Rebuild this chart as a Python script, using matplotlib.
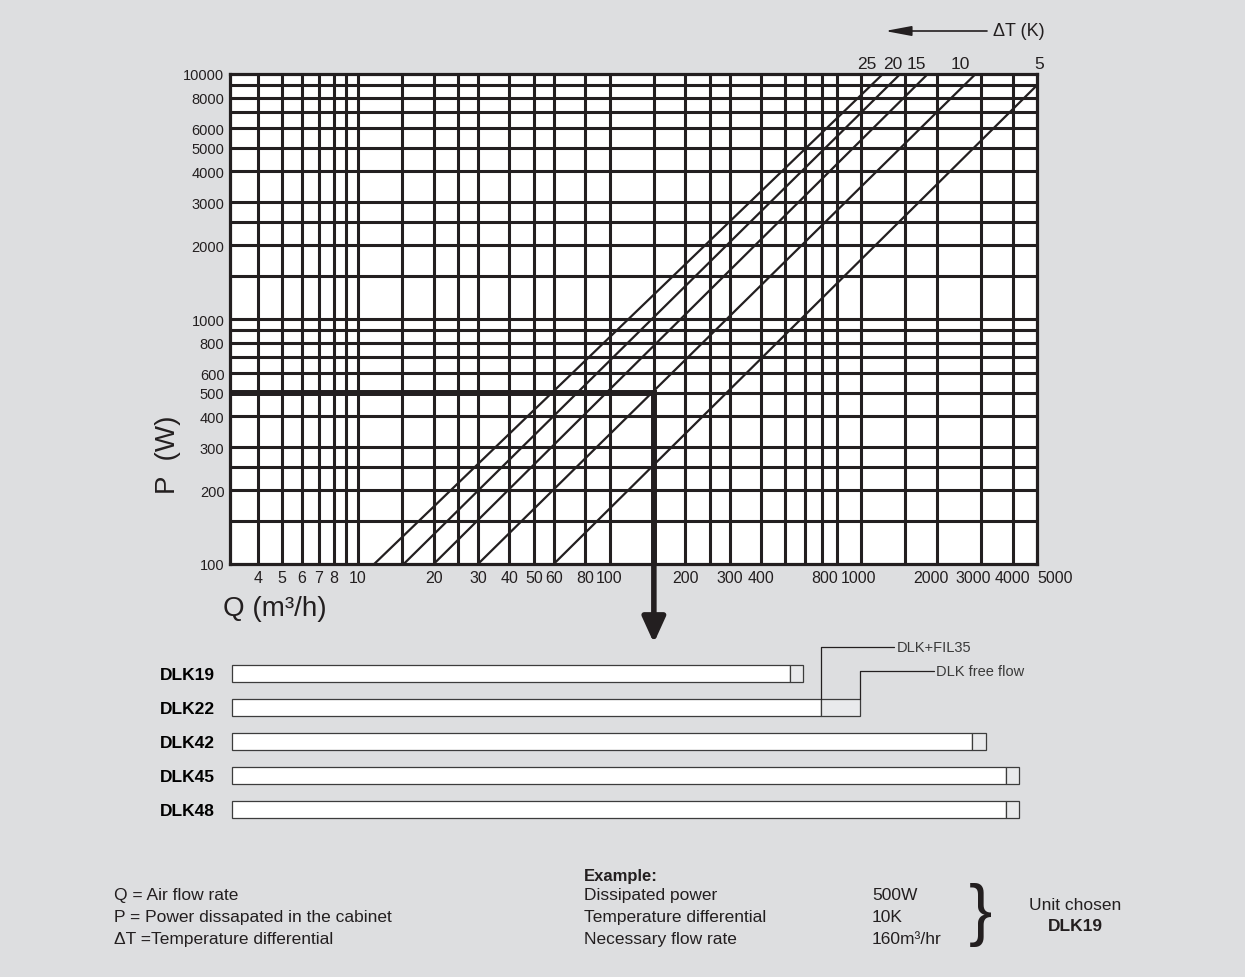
import matplotlib.pyplot as plt

W, H = 1245, 978
INK = '#231f20'
BG = '#dddee0'
PALE = '#e9eaec'

plt.rcParams['font.family'] = ['Liberation Sans', 'DejaVu Sans']
plt.rcParams['text.color'] = INK

# grid lines of the log-log chart
q_grid = [4, 5, 6, 7, 8, 9, 10, 15, 20, 25, 30, 40, 50, 60, 80, 100, 150, 200, 250,
          300, 400, 500, 600, 700, 800, 1000, 1500, 2000, 3000, 4000]
q_labels = [4, 5, 6, 7, 8, 10, 20, 30, 40, 50, 60, 80, 100, 200, 300, 400,
            800, 1000, 2000, 3000, 4000, 5000]
p_grid = [150, 200, 250, 300, 400, 500, 600, 700, 800, 900, 1000, 1500, 2000,
          2500, 3000, 4000, 5000, 6000, 7000, 8000, 9000]
p_labels = [100, 200, 300, 400, 500, 600, 800, 1000, 2000, 3000, 4000, 5000,
            6000, 8000, 10000]

# delta T lines (read at both ends)
dt_values = [25, 20, 15, 10, 5]
dt_q_start = [11.6, 15.2, 20, 30, 60]
dt_p_start = [100, 100, 100, 100, 100]
dt_q_end = [1220, 1430, 1840, 2850, 5000]
dt_p_end = [10000, 10000, 10000, 10000, 9000]

# worked example
example_p = 500
example_q = 150

# unit flow ranges
units = ['DLK19', 'DLK22', 'DLK42', 'DLK45', 'DLK48']
flow_filter = [520, 690, 2760, 3780, 3780]
flow_free = [590, 990, 3140, 4250, 4250]

Q_MIN, Q_MAX = 3.1, 5000

# small nudges (pixels) so the crowded labels do not collide, like the original
xlabel_shift = {800: -12, 1000: -3, 2000: -6, 3000: -8, 4000: 0, 5000: 18}
dt_label_shift = [-16, -7, -11, -15, 2]


def px(x, y):
    return x / W, 1 - y / H


fig = plt.figure(figsize=(W / 100, H / 100), dpi=100, facecolor=BG)

ax = fig.add_axes([230 / W, 1 - 565 / H, 807 / W, 490 / H])
ax.set_xscale('log')
ax.set_yscale('log')
ax.set_xlim(Q_MIN, Q_MAX)
ax.set_ylim(100, 10000)
ax.set_facecolor('white')

for q in q_grid:
    ax.axvline(q, color=INK, lw=2.2, zorder=1)
for p in p_grid:
    ax.axhline(p, color=INK, lw=2.2, zorder=1)
for s in ax.spines.values():
    s.set_linewidth(2.3)
    s.set_color(INK)

ax.set_xticks([])
ax.set_yticks(p_labels)
ax.set_yticklabels([str(v) for v in p_labels])
ax.minorticks_off()
ax.tick_params(axis='both', length=0, colors=INK)
ax.tick_params(axis='y', labelsize=10.5, pad=4)

for v in q_labels:
    ax.annotate(str(v), xy=(v, 0), xycoords=('data', 'axes fraction'),
                xytext=(xlabel_shift.get(v, 0), -6), textcoords='offset pixels',
                ha='center', va='top', fontsize=11.5, annotation_clip=False)

for i, (dt, q0, p0, q1, p1) in enumerate(zip(dt_values, dt_q_start, dt_p_start,
                                              dt_q_end, dt_p_end)):
    ax.plot([q0, q1], [p0, p1], color=INK, lw=1.6, zorder=2)
    ax.annotate(str(dt), xy=(min(q1, Q_MAX), 10000),
                xytext=(dt_label_shift[i], 3), textcoords='offset pixels',
                ha='center', va='bottom', fontsize=12.5, annotation_clip=False)

# example path P=500 -> Q
ax.plot([Q_MIN, example_q, example_q], [example_p, example_p, 100],
        color=INK, lw=4.3, solid_joinstyle='miter', solid_capstyle='butt',
        zorder=4, clip_on=False)
ax.annotate('', xy=(example_q, H - 644), xycoords=('data', 'figure pixels'),
            xytext=(example_q, 100), textcoords='data',
            arrowprops=dict(arrowstyle='-|>,head_length=1.1,head_width=0.5',
                            mutation_scale=14, lw=4.0, color=INK,
                            shrinkA=0, shrinkB=0),
            annotation_clip=False)

fig.text(*px(168, 455), 'P  (W)', rotation=90, fontsize=20, ha='center', va='center')
fig.text(*px(223, 609), 'Q (m³/h)', fontsize=20, ha='left', va='center')

# delta T header arrow
ax.annotate('', xy=(885, H - 32), xycoords='figure pixels',
            xytext=(987, H - 32), textcoords='figure pixels',
            arrowprops=dict(arrowstyle='-|>,head_length=1.6,head_width=0.3',
                            mutation_scale=10, lw=1.2, color=INK,
                            shrinkA=0, shrinkB=0),
            annotation_clip=False)
fig.text(*px(993, 32), 'ΔT (K)', fontsize=13, ha='left', va='center')

# unit bars
bax = fig.add_axes([230 / W, 1 - 827 / H, 807 / W, 170 / H])
bax.set_xscale('log')
bax.set_xlim(Q_MIN, Q_MAX)
bax.set_ylim(4.5, -0.5)
bax.patch.set_alpha(0)
rows = list(range(len(units)))
x0 = 3.15
bax.barh(rows, [f - x0 for f in flow_filter], left=x0, height=0.5,
         color='white', edgecolor='#3c3c3c', lw=0.9)
bax.barh(rows, [b - a for a, b in zip(flow_filter, flow_free)], left=flow_filter,
         height=0.5, color=PALE, edgecolor='#3c3c3c', lw=0.9)
bax.set_yticks(rows)
bax.set_yticklabels(units, fontweight='bold', fontsize=12.5)
bax.set_xticks([])
bax.minorticks_off()
bax.tick_params(axis='y', length=0, pad=11)
for s in bax.spines.values():
    s.set_visible(False)

callout = dict(arrowstyle='-', connectionstyle='angle,angleA=0,angleB=90,rad=0',
               relpos=(0, 0.5), color=INK, lw=0.9, shrinkA=0, shrinkB=0)
bax.annotate('DLK+FIL35', xy=(flow_filter[1], 0.75), xytext=(55, 37),
             textcoords='offset points', ha='left', va='center', fontsize=10.5,
             color='#3a3a3a', arrowprops=callout, annotation_clip=False)
bax.annotate('DLK free flow', xy=(flow_free[1], 0.75), xytext=(55, 19.5),
             textcoords='offset points', ha='left', va='center', fontsize=10.5,
             color='#3a3a3a', arrowprops=callout, annotation_clip=False)

# notes
notes = ['Q = Air flow rate', 'P = Power dissapated in the cabinet',
         'ΔT =Temperature differential']
for i, t in enumerate(notes):
    fig.text(*px(114, 896 + 22 * i), t, fontsize=12.5, ha='left', va='center')

narrow = ['Liberation Sans Narrow', 'Liberation Sans', 'DejaVu Sans']
fig.text(*px(584, 876), 'Example:', fontsize=12, fontweight='bold',
         family=narrow, ha='left', va='center')
ex_names = ['Dissipated power', 'Temperature differential', 'Necessary flow rate']
ex_vals = ['500W', '10K', '160m³/hr']
for i, (n, v) in enumerate(zip(ex_names, ex_vals)):
    fig.text(*px(584, 896 + 22 * i), n, fontsize=12.5, ha='left', va='center')
    fig.text(*px(872, 896 + 22 * i), v, fontsize=12.5, ha='left', va='center')

fig.text(*px(980, 915), '}', fontsize=50, ha='center', va='center')
fig.text(*px(1075, 906), 'Unit chosen', fontsize=12.5, ha='center', va='center')
fig.text(*px(1075, 927), 'DLK19', fontsize=12.5, fontweight='bold', family=narrow,
         ha='center', va='center')

fig.savefig('out.png', dpi=100, facecolor=BG)
